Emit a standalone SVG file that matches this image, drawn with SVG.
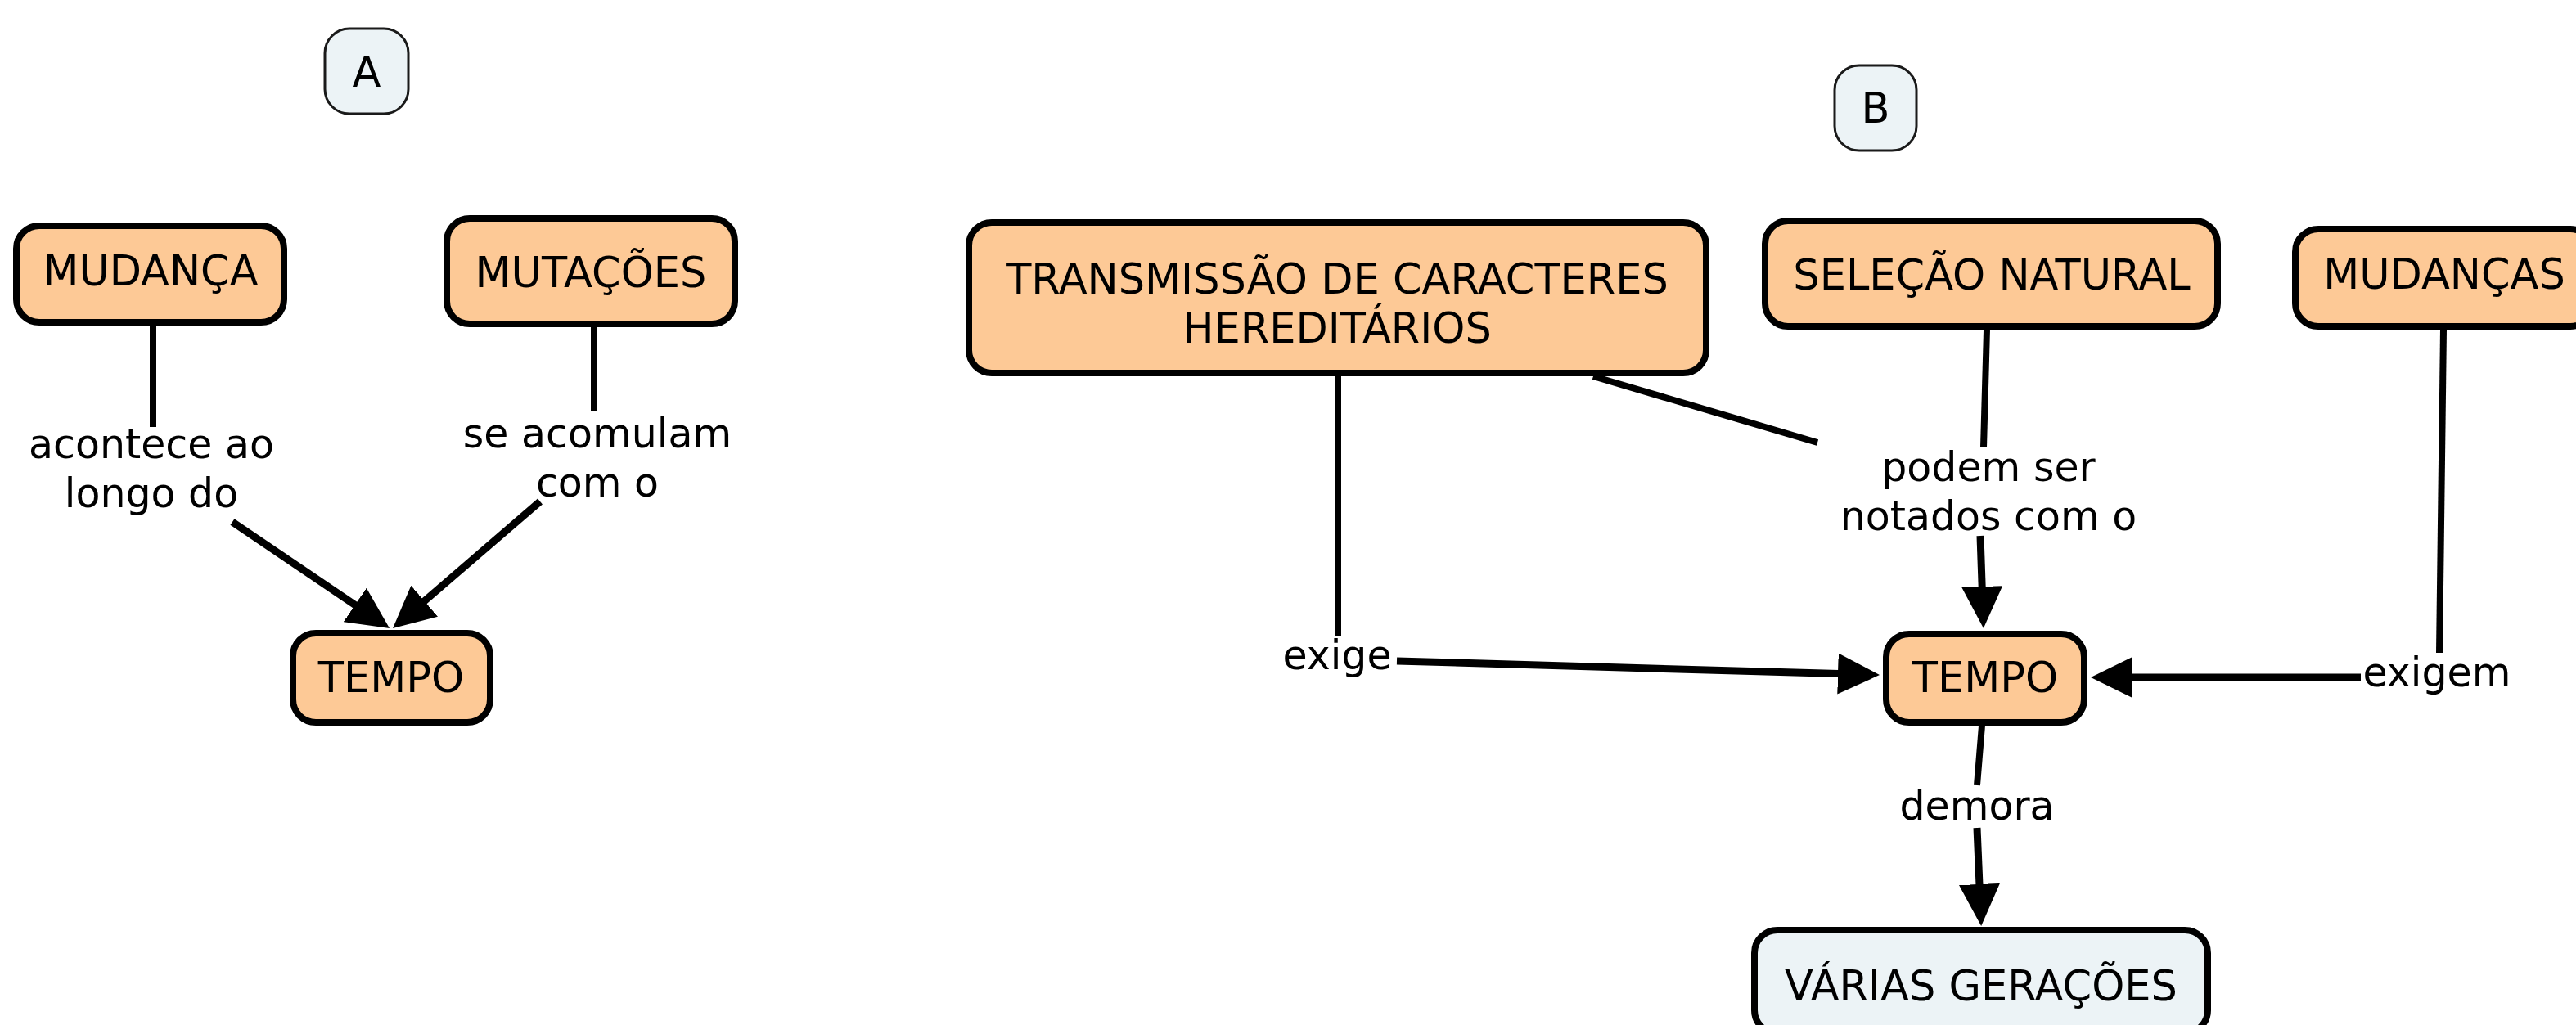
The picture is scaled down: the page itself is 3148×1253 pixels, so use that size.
<svg xmlns="http://www.w3.org/2000/svg" width="3148" height="1253" viewBox="0 0 3148 1253">
<defs>
<style>
.node{fill:#FDC996;stroke:#000;stroke-width:8}
.tag{fill:#ECF3F6;stroke:#1a1a1a;stroke-width:3}
.light{fill:#ECF3F6;stroke:#000;stroke-width:8}
.nt{font-family:"DejaVu Sans","Verdana",sans-serif;font-size:51px;fill:#000;text-anchor:middle}
.lt{font-family:"DejaVu Sans","Verdana",sans-serif;font-size:49px;fill:#000;text-anchor:middle}
.ln{fill:none;stroke:#000;stroke-width:8}
.ar{fill:none;stroke:#000;stroke-width:9;marker-end:url(#ah)}
</style>
<marker id="ah" markerUnits="userSpaceOnUse" markerWidth="52" markerHeight="50" refX="1" refY="25" orient="auto" viewBox="0 0 52 50">
<path d="M0,0 L51,25 L0,50 Z" fill="#000"/>
</marker>
</defs>
<rect width="3148" height="1253" fill="#fff"/>

<g id="connectors">
<line class="ln" x1="187" y1="398" x2="187" y2="522"/>
<line class="ar" x1="284" y1="638" x2="434.6" y2="740"/>
<line class="ln" x1="726" y1="400" x2="726" y2="503"/>
<line class="ar" x1="660" y1="613" x2="517.9" y2="735.4"/>
<line class="ln" x1="1635" y1="460" x2="1635" y2="778"/>
<line class="ar" x1="1707" y1="808" x2="2247" y2="823.6"/>
<line class="ln" x1="1947" y1="460" x2="2221" y2="541"/>
<line class="ln" x1="2428" y1="403" x2="2424" y2="547"/>
<line class="ar" x1="2420" y1="655" x2="2422.2" y2="718"/>
<line class="ln" x1="2986" y1="403" x2="2981" y2="798"/>
<line class="ar" x1="2885" y1="828" x2="2605" y2="828"/>
<line class="ln" x1="2422" y1="887" x2="2416" y2="960"/>
<line class="ar" x1="2416" y1="1012" x2="2419" y2="1082"/>
<text class="lt"><tspan x="185" y="560">acontece ao</tspan><tspan x="185" y="620">longo do</tspan></text>
<text class="lt"><tspan x="730" y="547">se acomulam</tspan><tspan x="730" y="607">com o</tspan></text>
<text class="lt" x="1634" y="818">exige</text>
<text class="lt"><tspan x="2430" y="588">podem ser</tspan><tspan x="2430" y="648">notados com o</tspan></text>
<text class="lt" x="2978" y="839">exigem</text>
<text class="lt" x="2416" y="1002">demora</text>
</g>

<g id="node-A">
<rect class="tag" x="397" y="35" width="102" height="104" rx="30"/>
<text class="nt" x="448" y="106">A</text>
</g>
<g id="node-B">
<rect class="tag" x="2242" y="80" width="100" height="104" rx="30"/>
<text class="nt" x="2292" y="150">B</text>
</g>
<g id="node-mudanca">
<rect class="node" x="20" y="276" width="327" height="118" rx="28"/>
<text class="nt" x="184" y="349">MUDANÇA</text>
</g>
<g id="node-mutacoes">
<rect class="node" x="546" y="267" width="352" height="129" rx="28"/>
<text class="nt" x="722" y="351">MUTAÇÕES</text>
</g>
<g id="node-tempo-a">
<rect class="node" x="358" y="774" width="241" height="109" rx="28"/>
<text class="nt" x="478" y="846">TEMPO</text>
</g>
<g id="node-transmissao">
<rect class="node" x="1184" y="272" width="901" height="184" rx="28"/>
<text class="nt"><tspan x="1634" y="359">TRANSMISSÃO DE CARACTERES</tspan><tspan x="1634" y="419">HEREDITÁRIOS</tspan></text>
</g>
<g id="node-selecao">
<rect class="node" x="2157" y="270" width="553" height="129" rx="28"/>
<text class="nt" x="2434" y="354">SELEÇÃO NATURAL</text>
</g>
<g id="node-mudancas">
<rect class="node" x="2805" y="280" width="364" height="119" rx="28"/>
<text class="nt" x="2987" y="353">MUDANÇAS</text>
</g>
<g id="node-tempo-b">
<rect class="node" x="2305" y="775" width="242" height="108" rx="28"/>
<text class="nt" x="2426" y="846">TEMPO</text>
</g>
<g id="node-varias">
<rect class="light" x="2144" y="1137" width="554" height="126" rx="28"/>
<text class="nt" x="2421" y="1223">VÁRIAS GERAÇÕES</text>
</g>
</svg>
